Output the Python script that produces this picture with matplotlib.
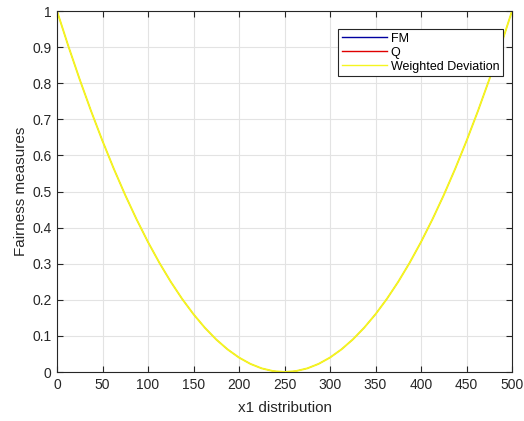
import matplotlib
matplotlib.use("Agg")
import matplotlib.pyplot as plt

plt.rcParams['font.family'] = ['Liberation Sans', 'DejaVu Sans']

x_vals = [0, 12.5, 25, 37.5, 50, 62.5, 75, 87.5, 100, 112.5, 125, 137.5, 150, 162.5, 175,
          187.5, 200, 212.5, 225, 237.5, 250, 262.5, 275, 287.5, 300, 312.5, 325, 337.5,
          350, 362.5, 375, 387.5, 400, 412.5, 425, 437.5, 450, 462.5, 475, 487.5, 500]
wd_vals = [1.0, 0.9025, 0.81, 0.7225, 0.64, 0.5625, 0.49, 0.4225, 0.36, 0.3025, 0.25,
           0.2025, 0.16, 0.1225, 0.09, 0.0625, 0.04, 0.0225, 0.01, 0.0025, 0.0,
           0.0025, 0.01, 0.0225, 0.04, 0.0625, 0.09, 0.1225, 0.16, 0.2025, 0.25,
           0.3025, 0.36, 0.4225, 0.49, 0.5625, 0.64, 0.7225, 0.81, 0.9025, 1.0]
fm_vals = wd_vals
q_vals = wd_vals

x_ticks = [0, 50, 100, 150, 200, 250, 300, 350, 400, 450, 500]
y_ticks = [0, 0.1, 0.2, 0.3, 0.4, 0.5, 0.6, 0.7, 0.8, 0.9, 1]
y_labels = ['0', '0.1', '0.2', '0.3', '0.4', '0.5', '0.6', '0.7', '0.8', '0.9', '1']

fig = plt.figure(figsize=(5.24, 4.21), dpi=100)
fig.patch.set_facecolor('white')
ax = fig.add_axes([57/524, 49/421, (512-57)/524, (372-11)/421])

ax.plot(x_vals, fm_vals, color='#0000a0', lw=0.5, label='FM')
ax.plot(x_vals, q_vals, color='#e00000', lw=0.5, label='Q')
ax.plot(x_vals, wd_vals, color='#f5f520', lw=1.4, label='Weighted Deviation')

ax.set_xlim(0, 500)
ax.set_ylim(0, 1)
ax.set_xticks(x_ticks)
ax.set_yticks(y_ticks)
ax.set_yticklabels(y_labels)
ax.tick_params(direction='in', length=4, width=0.8, labelsize=10, colors='#262626',
               top=True, right=True, labeltop=False, labelright=False, pad=4)
ax.grid(True, color='#e3e3e3', lw=0.8)
ax.set_axisbelow(True)
for s in ax.spines.values():
    s.set_color('#262626')
    s.set_linewidth(0.8)

ax.set_xlabel('x1 distribution', fontsize=11, color='#262626', labelpad=7)
ax.set_ylabel('Fairness measures', fontsize=11, color='#262626', labelpad=3)

leg = ax.legend(loc='upper right', fontsize=9, frameon=True, fancybox=False,
                edgecolor='#262626', framealpha=1, handlelength=3.6,
                borderpad=0.3, labelspacing=0.15, handletextpad=0.3,
                borderaxespad=0, bbox_to_anchor=((503-57)/455, (372-29)/361))
leg.get_frame().set_linewidth(0.8)
for h in leg.get_lines():
    h.set_linewidth(1.0)

fig.savefig('out.png', dpi=100, facecolor='white')
